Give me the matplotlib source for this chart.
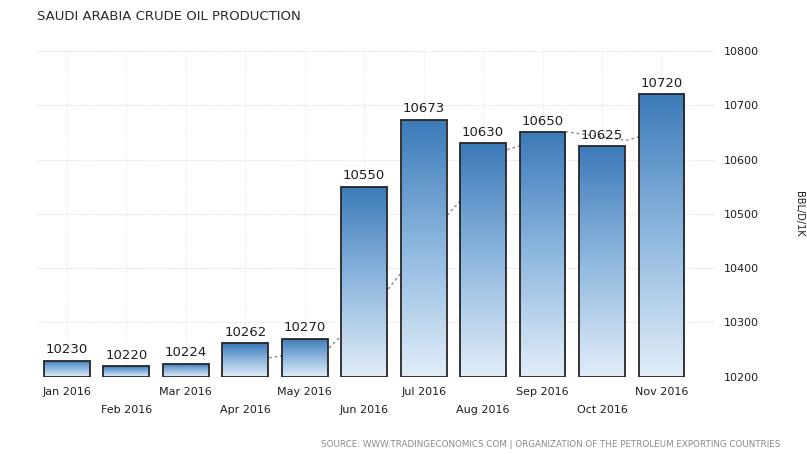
import matplotlib
matplotlib.use("Agg")
import matplotlib.pyplot as plt
import numpy as np
from matplotlib.colors import LinearSegmentedColormap
from matplotlib.patches import Rectangle

# --- data ---
months = ["Jan 2016", "Feb 2016", "Mar 2016", "Apr 2016", "May 2016", "Jun 2016",
          "Jul 2016", "Aug 2016", "Sep 2016", "Oct 2016", "Nov 2016"]
production = [10230, 10220, 10224, 10262, 10270, 10550, 10673, 10630, 10650, 10625, 10720]
# dotted trend line (Apr..Nov), drawn behind the bars
trend_idx = [3, 4, 5, 6, 7, 8, 9, 10]
trend_vals = [10235, 10252, 10361, 10498, 10618, 10651, 10635, 10665]
y_ticks = [10200, 10300, 10400, 10500, 10600, 10700, 10800]

TXT = "#1e1e1e"
GRID = "#d9d9d9"
bar_cmap = LinearSegmentedColormap.from_list("tebar", ["#e2edf8", "#8fb8df", "#3c7ab9"])

fig = plt.figure(figsize=(8.07, 4.54), dpi=100)
ax = fig.add_axes([0.046, 0.170, 0.840, 0.718])

base = y_ticks[0]
x = np.arange(len(months))
width = 0.77

# grid
for yv in y_ticks:
    ax.axhline(yv, color=GRID, lw=0.8, ls=(0, (1, 1.5)), zorder=0)
for xv in x:
    ax.axvline(xv, color="#e6e6e6", lw=0.8, ls=(0, (1, 1.5)), zorder=0)

# trend line
ax.plot(np.array(trend_idx) + 0.4, trend_vals, color="#8c8c8c", lw=1.0,
        ls=(0, (2, 2)), zorder=1)

grad = np.linspace(0, 1, 256).reshape(-1, 1)
for xi, v in zip(x, production):
    x0 = xi - width / 2
    im = ax.imshow(grad, cmap=bar_cmap, origin="lower", aspect="auto",
                   extent=(x0, x0 + width, base, v), zorder=2)
    clip = Rectangle((x0, base), width, v - base, transform=ax.transData)
    im.set_clip_path(clip)
    ax.add_patch(Rectangle((x0, base), width, v - base, facecolor="none",
                           edgecolor="#262626", lw=1.3, joinstyle="miter", zorder=3))
    ax.text(xi, v + 8, str(v), ha="center", va="bottom", fontsize=9.5,
            color=TXT)

ax.set_xlim(-0.5, 10.9)
ax.set_ylim(base, y_ticks[-1])
for s in ax.spines.values():
    s.set_visible(False)

ax.yaxis.tick_right()
ax.set_yticks(y_ticks)
ax.set_yticklabels([str(t) for t in y_ticks], fontsize=8, color=TXT)
ax.tick_params(axis="y", length=0, pad=6)
ax.set_xticks([])

# staggered month labels
for xi, lab in zip(x, months):
    yoff = -0.030 if xi % 2 == 0 else -0.085
    ax.text(xi, yoff, lab, transform=ax.get_xaxis_transform(), ha="center",
            va="top", fontsize=8, color=TXT)

fig.text(0.99, 0.53, "BBL/D/1K", rotation=-90, ha="center", va="center",
         fontsize=7, color=TXT)
fig.text(0.046, 0.963, "SAUDI ARABIA CRUDE OIL PRODUCTION", ha="left", va="center",
         fontsize=9.5, color="#2a2a2a")
fig.text(0.967, 0.012,
         "SOURCE: WWW.TRADINGECONOMICS.COM | ORGANIZATION OF THE PETROLEUM EXPORTING COUNTRIES",
         ha="right", va="bottom", fontsize=6.3, color="#8a8a8a")

fig.savefig("out.png", dpi=100)
